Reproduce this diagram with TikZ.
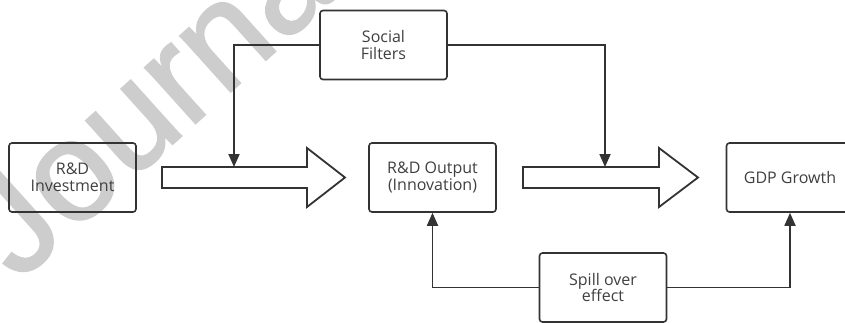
\documentclass[tikz,border=0pt]{standalone}
\usepackage{fontspec}
\setmainfont{Open Sans}
\newfontfamily\wmfont[FakeBold=1.5]{Liberation Sans}
\usetikzlibrary{arrows.meta}
\definecolor{ln}{HTML}{333333}
\definecolor{tx}{HTML}{404040}
\definecolor{wm}{HTML}{CDCDCD}
\begin{document}
\begin{tikzpicture}[x=1pt,y=-1pt,
  box/.style={draw=ln,line width=1.6pt,rounded corners=3pt,minimum width=127pt,minimum height=69pt,align=center,text=tx,font=\fontsize{16}{16.5}\selectfont,inner sep=0pt},
  conn/.style={draw=ln,line width=1.8pt,-{Triangle[length=13pt,width=11pt]}},
  bigarrow/.style={draw=ln,line width=1.8pt,line join=miter},
  watermark/.style={anchor=base west,rotate=42,inner sep=0pt,text=wm,font=\wmfont\fontsize{142}{142}\selectfont}]
\useasboundingbox (0,0) rectangle (845,322);
\clip (0,0) rectangle (845,322);
\fill[white] (0,0) rectangle (845,322);
\node[watermark] (wmk) at (18,283) {Journal};
\node[box] (inv) at (72.5,177.5) {R\&D\\Investment};
\node[box] (sf) at (383.5,45) {Social\\Filters};
\node[box] (out) at (432.5,177.5) {R\&D Output\\(Innovation)};
\node[box] (gdp) at (790,177.5) {GDP Growth};
\node[box] (sp) at (603,287.5) {Spill over\\effect};
\draw[bigarrow] (162,167) -- (307,167) -- (307,148) -- (345,177.5) -- (307,207) -- (307,188) -- (162,188) -- cycle;
\draw[bigarrow] (523,167) -- (659,167) -- (659,148) -- (698,177.5) -- (659,207) -- (659,188) -- (523,188) -- cycle;
\coordinate (f1) at (234,167);
\coordinate (f2) at (605,167);
\draw[conn] (sf.west) -| (f1);
\draw[conn] (sf.east) -| (f2);
\draw[conn] (sp.west) -| (out.south);
\draw[conn] (sp.east) -| (gdp.south);
\end{tikzpicture}
\end{document}
